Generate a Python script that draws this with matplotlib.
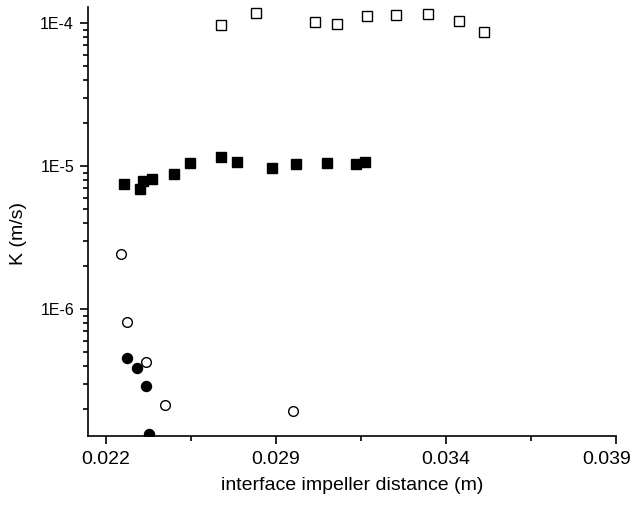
import matplotlib
matplotlib.use('Agg')
import matplotlib.pyplot as plt
import matplotlib.transforms as mtransforms
from matplotlib.ticker import LogLocator, NullFormatter, FixedLocator

plt.rcParams['font.family'] = ['Liberation Sans', 'DejaVu Sans']

# x values are on the drawn axis scale (ticks every 0.005, first one labelled 0.022)
open_sq_x = [0.02739, 0.02842, 0.03014, 0.03080, 0.03168, 0.03254, 0.03347, 0.03438, 0.03512]
open_sq_y = [9.7e-5, 1.19e-4, 1.02e-4, 9.9e-5, 1.12e-4, 1.14e-4, 1.17e-4, 1.04e-4, 8.7e-5]

fill_sq_x = [0.02455, 0.02501, 0.02510, 0.02537, 0.02601, 0.02648, 0.02739,
             0.02786, 0.02888, 0.02960, 0.03052, 0.03135, 0.03163]
fill_sq_y = [7.5e-6, 6.9e-6, 7.9e-6, 8.1e-6, 8.9e-6, 1.06e-5, 1.16e-5,
             1.08e-5, 9.8e-6, 1.03e-5, 1.06e-5, 1.04e-5, 1.08e-5]

open_ci_x = [0.02445, 0.02463, 0.02518, 0.02573, 0.02950]
open_ci_y = [2.44e-6, 8.2e-7, 4.26e-7, 2.14e-7, 1.94e-7]

fill_ci_x = [0.02463, 0.02491, 0.02518, 0.02527]
fill_ci_y = [4.59e-7, 3.91e-7, 2.91e-7, 1.34e-7]

xtick_pos = [0.024, 0.029, 0.034, 0.039]
xtick_labels = ['0.022', '0.029', '0.034', '0.039']
ytick_pos = [1e-6, 1e-5, 1e-4]
ytick_labels = ['1E-6', '1E-5', '1E-4']

fig = plt.figure(figsize=(6.32, 5.08), dpi=100)
ax = fig.add_axes([0.1392, 0.1417, 0.8355, 0.8445])

ax.plot(open_sq_x, open_sq_y, 's', ms=6.5, mfc='white', mec='black', mew=1.0, ls='none')
ax.plot(fill_sq_x, fill_sq_y, 's', ms=6.8, mfc='black', mec='black', ls='none')
ax.plot(open_ci_x, open_ci_y, 'o', ms=7, mfc='white', mec='black', mew=1.0, ls='none')
ax.plot(fill_ci_x, fill_ci_y, 'o', ms=7.2, mfc='black', mec='black', ls='none')

ax.set_yscale('log')
ax.set_xlim(0.02348, 0.039)
ax.set_ylim(1.3e-7, 1.3e-4)

ax.set_xticks(xtick_pos)
ax.set_xticklabels(xtick_labels)
ax.xaxis.set_minor_locator(FixedLocator([0.0265, 0.0315, 0.0365]))
ax.set_yticks(ytick_pos)
ax.set_yticklabels(ytick_labels)
ax.yaxis.set_minor_locator(LogLocator(base=10, subs=range(2, 10), numticks=20))
ax.yaxis.set_minor_formatter(NullFormatter())

ax.spines['top'].set_visible(False)
ax.spines['right'].set_visible(False)
for s in ['left', 'bottom']:
    ax.spines[s].set_linewidth(1.2)

ax.tick_params(which='major', direction='out', length=6, width=1.2)
ax.tick_params(which='minor', direction='out', length=3.5, width=1.2)
ax.tick_params(axis='x', which='major', labelsize=14, pad=5)
ax.tick_params(axis='y', which='major', labelsize=11.5, pad=4)

# pull the last x label in so it stays inside the figure
last = ax.get_xticklabels()[-1]
last.set_transform(last.get_transform() +
                   mtransforms.ScaledTranslation(-9 / 100, 0, fig.dpi_scale_trans))

ax.set_xlabel('interface impeller distance (m)', fontsize=14)
ax.set_ylabel('K (m/s)', fontsize=14)
ax.xaxis.set_label_coords(0.5, -0.096)
ax.yaxis.set_label_coords(-0.1155, 0.471)

fig.savefig('out.png', dpi=100)
